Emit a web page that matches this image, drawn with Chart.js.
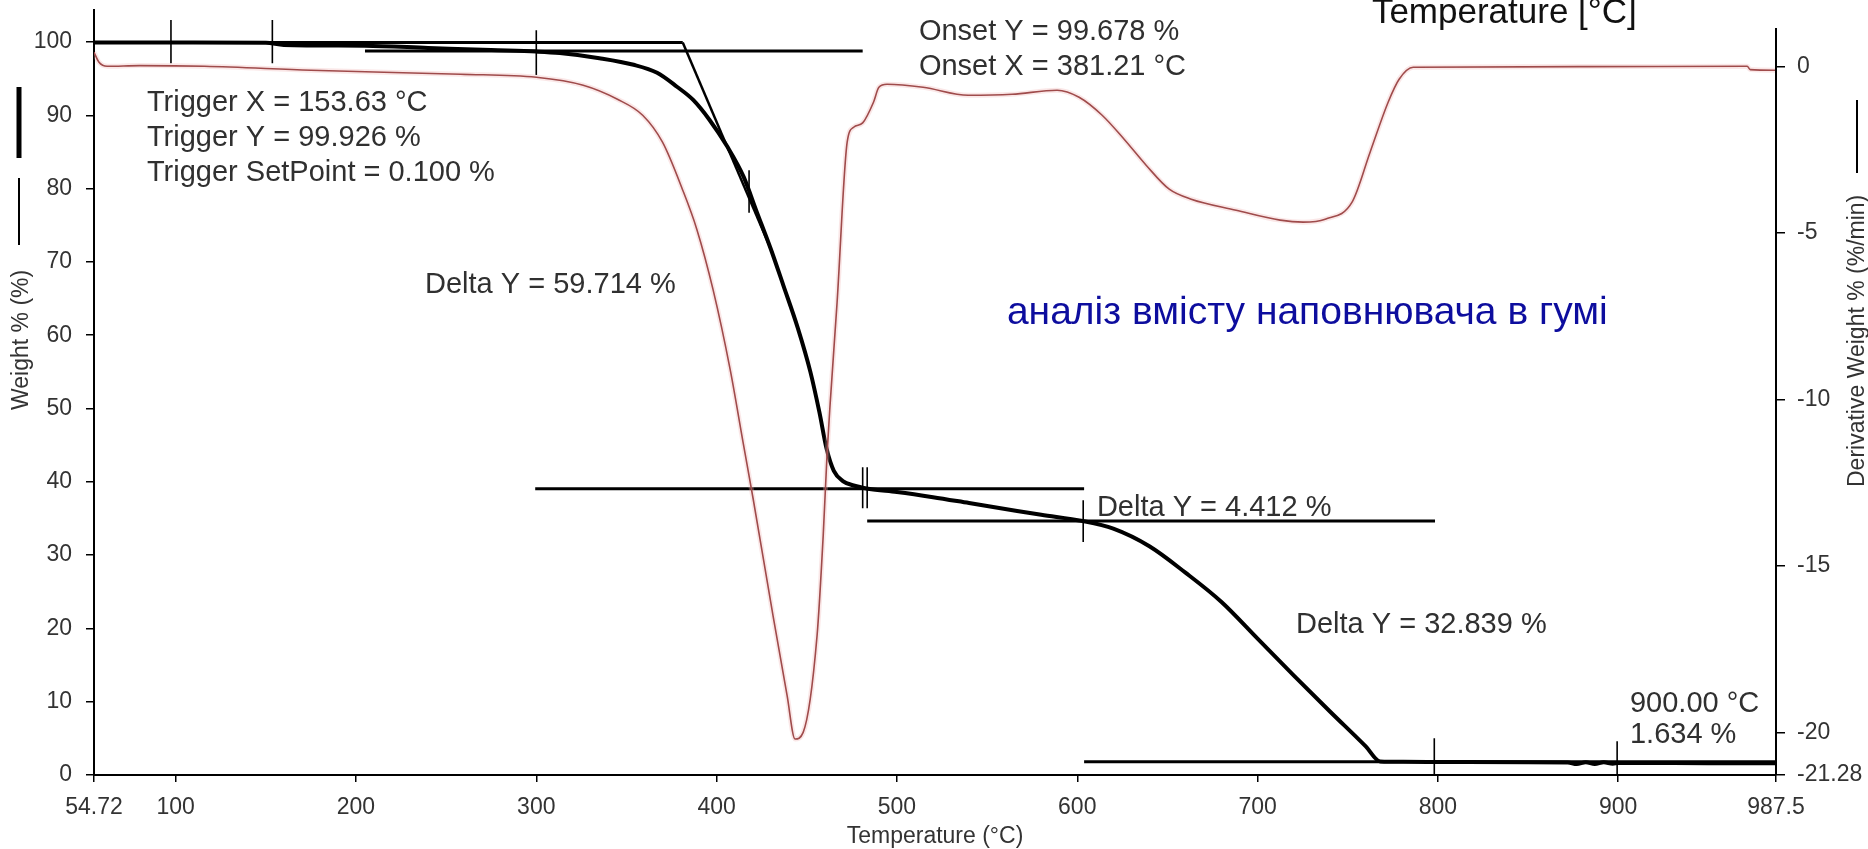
<!DOCTYPE html>
<html>
<head>
<meta charset="utf-8">
<script src="https://cdn.jsdelivr.net/npm/chart.js@4.4.1/dist/chart.umd.min.js"></script>
<style>
  html, body { margin: 0; padding: 0; background: #fff; }
  #wrap { width: 1868px; height: 849px; }
</style>
</head>
<body>
<div id="wrap"><canvas id="tga" width="1868" height="849"></canvas></div>
<script>
// TGA curve (weight %)
const weightTemp = [54.72, 100, 150, 160, 205, 240, 275, 300, 313, 335, 354, 367, 378, 387, 396, 406, 415, 422, 430, 437, 445, 452, 457, 461, 465, 470, 476, 484,
  500, 520, 540, 560, 580, 603, 620, 640, 660, 680, 700, 720, 740, 760, 768, 780, 800, 850, 872, 877, 882, 887, 892, 897, 900, 950, 987.5];
const weightPct = [99.95, 99.93, 99.9, 99.6, 99.5, 99.2, 98.9, 98.7, 98.5, 97.8, 96.9, 95.8, 93.9, 92.1, 89.4, 85.7, 81.6, 77.0, 71.8, 66.8, 61.0, 55.0, 49.5, 44.5, 41.5, 40.1, 39.5, 39.06,
  38.6, 37.9, 37.1, 36.3, 35.5, 34.65, 33.6, 31.2, 27.6, 23.6, 18.6, 13.6, 8.7, 3.9, 1.85, 1.8, 1.78, 1.74, 1.72, 1.5, 1.75, 1.5, 1.74, 1.55, 1.634, 1.62, 1.6];

// DTG curve (derivative weight %/min)
const dtgTemp = [54.72, 57.5, 62, 80, 116, 175, 258, 300, 326, 345, 359, 370, 381, 389, 398, 407.5, 414.7, 420.3, 431.3, 439.1, 443.5, 448, 455.7, 459.1, 461.3, 463, 466.8,
  472.4, 476, 481, 487, 490, 494.5, 514.5, 539.5, 563.9, 588.8, 601, 613.8, 626, 638.2, 651, 663.2, 688.1, 712.5, 725.3, 737.5, 752.4, 762.4, 772.4, 778.5, 786.3, 880, 971.5, 973.2, 987.5];
const dtgRate = [0.42, 0.12, 0.0, 0.02, 0.0, -0.12, -0.24, -0.33, -0.57, -0.99, -1.47, -2.28, -3.69, -4.89, -6.7, -9.1, -11.3, -13.0, -16.5, -18.9, -20.2, -20.0, -17.1, -14.1, -11.6, -10.1, -7.1,
  -2.28, -1.83, -1.7, -1.08, -0.63, -0.54, -0.63, -0.87, -0.84, -0.72, -0.93, -1.47, -2.19, -2.97, -3.69, -3.99, -4.32, -4.62, -4.68, -4.59, -4.08, -2.58, -1.08, -0.39, -0.03, -0.01, 0.0, -0.1, -0.12];

// level lines of the step analysis: from / to (°C) at weight %
const levelFrom = [54.72, 205, 299.4, 483.5, 603.8];
const levelTo = [381.21, 481, 603.8, 798.4, 987.5];
const levelPct = [99.93, 98.77, 39.06, 34.65, 1.81];

// onset tangent
const tangentTemp = [381.21, 431];
const tangentPct = [99.93, 71.2];

// short vertical cursor marks
const markerTemp = [97.4, 153.63, 300, 418, 481, 483.5, 603.3, 798, 899.4];
const markerHigh = [103, 103, 101.6, 82.5, 42, 42, 37.5, 5, 4.6];
const markerLow = [97.1, 97.1, 95.5, 76.7, 36.4, 36.4, 31.8, 0, 0];

// tick labels
const xTickValues = [54.72, 100, 200, 300, 400, 500, 600, 700, 800, 900, 987.5];
const yTickValues = [0, 10, 20, 30, 40, 50, 60, 70, 80, 90, 100];
const y1TickValues = [0, -5, -10, -15, -20, -21.28];

const FONT = "'Liberation Sans', Arial, sans-serif";
const pts = (xs, ys) => xs.map((v, i) => ({ x: v, y: ys[i] }));

const datasets = [];
// pale halo round the DTG trace (jpeg look of the original)
datasets.push({ data: pts(dtgTemp, dtgRate), yAxisID: 'y1', borderColor: 'rgba(240,175,175,0.3)', borderWidth: 5, cubicInterpolationMode: 'monotone' });
datasets.push({ data: pts(dtgTemp, dtgRate), yAxisID: 'y1', borderColor: '#7d2020', borderWidth: 1.6, cubicInterpolationMode: 'monotone' });
levelPct.forEach((w, i) => {
    datasets.push({ data: [{ x: levelFrom[i], y: w }, { x: levelTo[i], y: w }], yAxisID: 'y', borderColor: '#000', borderWidth: 3 });
});
datasets.push({ data: pts(tangentTemp, tangentPct), yAxisID: 'y', borderColor: '#000', borderWidth: 2.5 });
markerTemp.forEach((t, i) => {
    datasets.push({ data: [{ x: t, y: markerHigh[i] }, { x: t, y: markerLow[i] }], yAxisID: 'y', borderColor: '#000', borderWidth: 1.6 });
});
datasets.push({ data: pts(weightTemp, weightPct), yAxisID: 'y', borderColor: '#000', borderWidth: 4, cubicInterpolationMode: 'monotone' });
datasets.forEach(d => { d.showLine = true; d.pointRadius = 0; d.fill = false; });

// free text, anchored in data coordinates (left edge, first baseline)
const notes = [
    { lines: ['Trigger X = 153.63 °C', 'Trigger Y = 99.926 %', 'Trigger SetPoint = 0.100 %'], t: 84.1, w: 90.6, gap: 35 },
    { lines: ['Delta Y = 59.714 %'], t: 238.3, w: 65.8, gap: 0 },
    { lines: ['Onset Y = 99.678 %', 'Onset X = 381.21 °C'], t: 512.2, w: 100.27, gap: 35 },
    { lines: ['Delta Y = 4.412 %'], t: 610.9, w: 35.33, gap: 0 },
    { lines: ['Delta Y = 32.839 %'], t: 721.3, w: 19.37, gap: 0 },
    { lines: ['900.00 °C', '1.634 %'], t: 906.5, w: 8.6, gap: 31 }
];

const textPlugin = {
    id: 'tgaText',
    afterDraw(chart) {
        const { ctx, scales, chartArea } = chart;
        const xs = scales.x, ys = scales.y;
        ctx.save();

        // right axis line starts a little below the top of the plot
        ctx.strokeStyle = '#000';
        ctx.lineWidth = 2;
        ctx.beginPath();
        ctx.moveTo(chartArea.right, 28);
        ctx.lineTo(chartArea.right, chartArea.bottom);
        ctx.stroke();

        ctx.textBaseline = 'alphabetic';
        ctx.textAlign = 'left';

        ctx.fillStyle = '#303030';
        ctx.font = '29px ' + FONT;
        notes.forEach(n => {
            const px = xs.getPixelForValue(n.t);
            const py = ys.getPixelForValue(n.w);
            n.lines.forEach((s, k) => ctx.fillText(s, px, py + k * n.gap));
        });

        ctx.fillStyle = '#0d0d9e';
        ctx.font = '39px ' + FONT;
        ctx.fillText('аналіз вмісту наповнювача в гумі', xs.getPixelForValue(561), ys.getPixelForValue(61.5));

        ctx.fillStyle = '#111';
        ctx.font = '35px ' + FONT;
        ctx.fillText('Temperature [°C]', xs.getPixelForValue(763.4), ys.getPixelForValue(102.6));

        // axis titles
        ctx.fillStyle = '#333';
        ctx.font = '23px ' + FONT;
        ctx.textAlign = 'center';
        ctx.fillText('Temperature (°C)', (chartArea.left + chartArea.right) / 2, 843);

        ctx.textAlign = 'left';
        ctx.save();
        ctx.translate(28, 410);
        ctx.rotate(-Math.PI / 2);
        ctx.fillText('Weight % (%)', 0, 0);
        ctx.restore();
        ctx.lineWidth = 2;
        ctx.beginPath(); ctx.moveTo(19, 245); ctx.lineTo(19, 178); ctx.stroke();
        ctx.lineWidth = 5;
        ctx.beginPath(); ctx.moveTo(19, 158); ctx.lineTo(19, 87); ctx.stroke();

        ctx.save();
        ctx.translate(1864, 487);
        ctx.rotate(-Math.PI / 2);
        ctx.fillText('Derivative Weight % (%/min)', 0, 0);
        ctx.restore();
        ctx.lineWidth = 2;
        ctx.beginPath(); ctx.moveTo(1857, 173); ctx.lineTo(1857, 100); ctx.stroke();
        ctx.restore();
    }
};

const tickFont = { family: FONT, size: 23 };

// keep the plot frame where the original has it
const noPadY = s => { s.paddingTop = 0; s.paddingBottom = 0; };
const noPadX = s => { s.paddingLeft = 0; s.paddingRight = 0; };

new Chart(document.getElementById('tga').getContext('2d'), {
    type: 'scatter',
    data: { datasets },
    options: {
        responsive: false,
        animation: false,
        devicePixelRatio: 1,
        layout: { padding: { top: 10 } },
        plugins: { legend: { display: false }, tooltip: { enabled: false } },
        scales: {
            x: {
                type: 'linear', min: 54.72, max: 987.5,
                afterBuildTicks: s => { s.ticks = xTickValues.map(v => ({ value: v })); },
                afterFit: s => { s.height = 74; noPadX(s); },
                ticks: { autoSkip: false, maxRotation: 0, padding: 12, color: '#333', font: tickFont, callback: v => String(v) },
                grid: { drawOnChartArea: false, tickLength: 7, color: '#000', lineWidth: 1.5 },
                border: { color: '#000', width: 2 }
            },
            y: {
                type: 'linear', position: 'left', min: 0, max: 104.37,
                afterBuildTicks: s => { s.ticks = yTickValues.map(v => ({ value: v })); },
                afterFit: s => { s.width = 94; noPadY(s); },
                ticks: { autoSkip: false, padding: 14, color: '#333', font: tickFont, callback: v => String(v) },
                grid: { drawOnChartArea: false, tickLength: 8, color: '#000', lineWidth: 1.5 },
                border: { color: '#000', width: 2 }
            },
            y1: {
                type: 'linear', position: 'right', min: -21.28, max: 1.69,
                afterBuildTicks: s => { s.ticks = y1TickValues.map(v => ({ value: v })); },
                afterFit: s => { s.width = 92; noPadY(s); },
                ticks: { autoSkip: false, padding: 12, color: '#333', font: tickFont, callback: v => String(v) },
                grid: { drawOnChartArea: false, tickLength: 9, color: '#000', lineWidth: 1.5 },
                border: { display: false }
            }
        }
    },
    plugins: [textPlugin]
});
</script>
</body>
</html>
